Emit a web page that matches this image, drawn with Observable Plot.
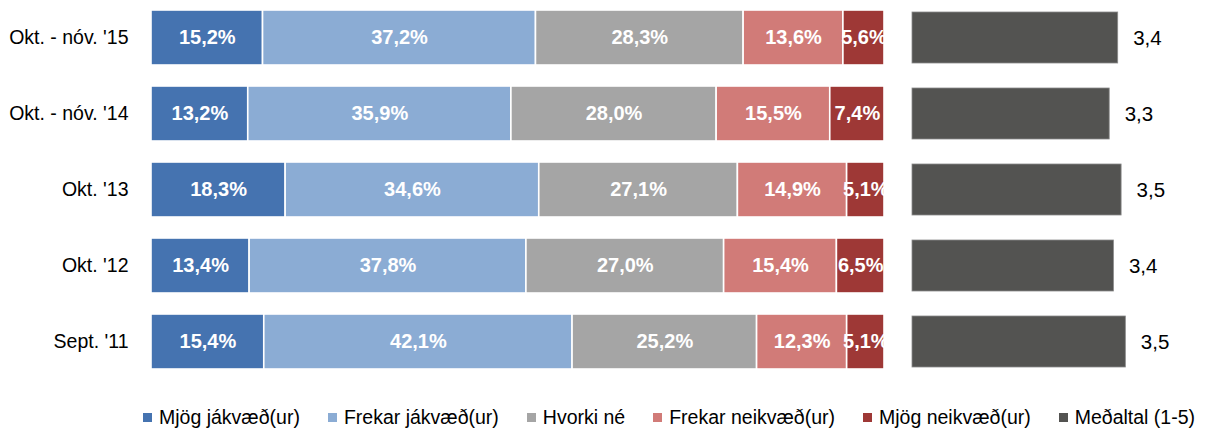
<!DOCTYPE html>
<html>
<head>
<meta charset="utf-8">
<script src="https://cdn.jsdelivr.net/npm/d3@7"></script>
<script src="https://cdn.jsdelivr.net/npm/@observablehq/plot@0.6"></script>
<style>
  html, body { margin: 0; padding: 0; background: #fff; }
  body { width: 1211px; height: 430px; overflow: hidden; font-family: "Liberation Sans", Arial, sans-serif; }
  #charts { display: flex; flex-direction: row; align-items: flex-start; }
  #charts svg { display: block; }
  #legend { display: flex; flex-direction: row; align-items: center; padding-left: 143px; margin-top: 22px; gap: 28px; font-size: 19.5px; color: #000; line-height: 20px; }
  #legend .item { display: flex; align-items: center; gap: 7px; white-space: nowrap; }
  #legend .sw { width: 9px; height: 9px; display: inline-block; }
</style>
</head>
<body>
<div id="charts"></div>
<div id="legend"></div>
<script>
// ---- data ----
const periods = ["Okt. - nóv. '15", "Okt. - nóv. '14", "Okt. '13", "Okt. '12", "Sept. '11"];
const categories = ["Mjög jákvæð(ur)", "Frekar jákvæð(ur)", "Hvorki né", "Frekar neikvæð(ur)", "Mjög neikvæð(ur)"];
const mjogJakvaed   = [15.2, 13.2, 18.3, 13.4, 15.4];
const frekarJakvaed = [37.2, 35.9, 34.6, 37.8, 42.1];
const hvorkiNe      = [28.3, 28.0, 27.1, 27.0, 25.2];
const frekarNeikvaed = [13.6, 15.5, 14.9, 15.4, 12.3];
const mjogNeikvaed  = [5.6, 7.4, 5.1, 6.5, 5.1];
const meanLabel = "Meðaltal (1-5)";
const meanValues = [3.42, 3.32, 3.46, 3.37, 3.51];
const meanScaleMin = 1;
const meanScaleMax = 4;
const colors = ["#4573B0", "#8BACD4", "#A5A5A5", "#D17B78", "#9E3836"];
const meanColor = "#535351";

const series = [mjogJakvaed, frekarJakvaed, hvorkiNe, frekarNeikvaed, mjogNeikvaed];
const table = [];
periods.forEach((p, i) => {
  categories.forEach((c, j) => table.push({period: p, category: c, value: series[j][i]}));
});
const means = periods.map((p, i) => ({period: p, mean: meanValues[i]}));

const pct = v => v.toFixed(1).replace(".", ",") + "%";
const dec = v => v.toFixed(1).replace(".", ",");
const font = '"Liberation Sans", Arial, sans-serif';

const H = 385, MT = 4, MB = 10;
const yOpts = {domain: periods, paddingInner: 0.27, paddingOuter: 0.05};

const left = Plot.plot({
  width: 895, height: H,
  marginLeft: 151, marginRight: 11, marginTop: MT, marginBottom: MB,
  style: {fontFamily: font, fontSize: "19.5px", color: "#000", background: "transparent"},
  x: {domain: [0, 1], axis: null},
  y: {...yOpts, label: null},
  color: {domain: categories, range: colors},
  marks: [
    Plot.barX(table, Plot.stackX({x: "value", y: "period", z: "category", fill: "category", offset: "normalize", stroke: "white", strokeWidth: 1.6})),
    Plot.text(table, Plot.stackX({x: "value", y: "period", z: "category", offset: "normalize", text: d => pct(d.value), fill: "white", fontWeight: "bold", fontSize: 20, clip: true})),
    Plot.axisY({tickSize: 0, tickPadding: 23, fontSize: 19.5, fill: "#000", label: null})
  ]
});

const right = Plot.plot({
  width: 316, height: H,
  marginLeft: 17, marginRight: 44, marginTop: MT, marginBottom: MB,
  style: {fontFamily: font, fontSize: "20.5px", color: "#000", background: "transparent", overflow: "visible"},
  x: {domain: [meanScaleMin, meanScaleMax], axis: null},
  y: {...yOpts, axis: null},
  marks: [
    Plot.barX(means, {x1: meanScaleMin, x2: "mean", y: "period", fill: meanColor, stroke: "#8a8a8a", strokeWidth: 0.8, insetTop: 2, insetBottom: 2}),
    Plot.text(means, {x: "mean", y: "period", text: d => dec(d.mean), dx: 15, textAnchor: "start", fill: "#000", fontSize: 20.5})
  ]
});

document.getElementById("charts").append(left, right);

const legend = document.getElementById("legend");
[...categories, meanLabel].forEach((c, i) => {
  const item = document.createElement("div");
  item.className = "item";
  const sw = document.createElement("span");
  sw.className = "sw";
  sw.style.background = i < categories.length ? colors[i] : meanColor;
  const t = document.createElement("span");
  t.textContent = c;
  item.append(sw, t);
  legend.append(item);
});
</script>
</body>
</html>
